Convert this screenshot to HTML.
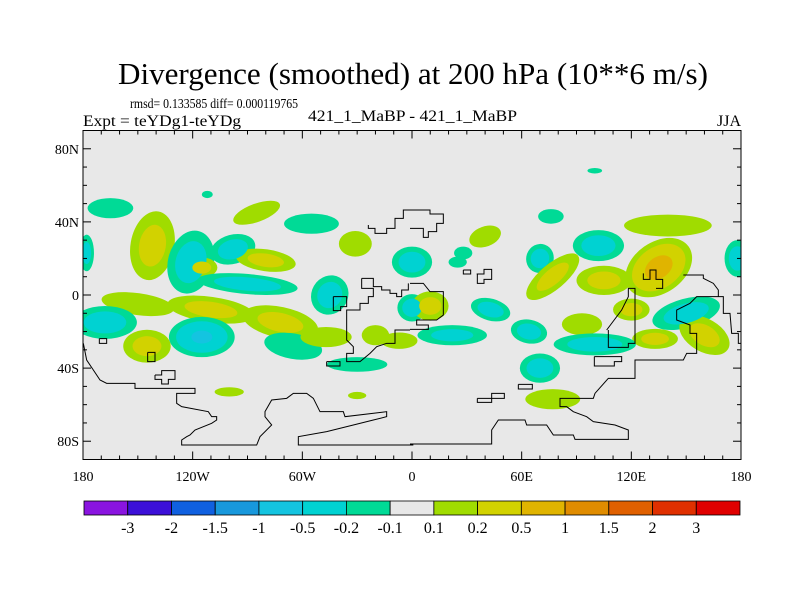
<!DOCTYPE html>
<html><head><meta charset="utf-8"><style>
html,body{margin:0;padding:0;background:#fff;}
svg{display:block;font-family:"Liberation Serif",serif;}
</style></head><body>
<svg id="chart" width="800" height="600" viewBox="0 0 800 600">
<text x="118" y="84" font-size="31" textLength="590" lengthAdjust="spacingAndGlyphs">Divergence (smoothed) at 200 hPa (10**6 m/s)</text>
<text x="130" y="108" font-size="14" textLength="168" lengthAdjust="spacingAndGlyphs">rmsd= 0.133585 diff= 0.000119765</text>
<text x="83" y="126" font-size="16" textLength="158" lengthAdjust="spacingAndGlyphs">Expt = teYDg1-teYDg</text>
<text x="308" y="121" font-size="16" textLength="209" lengthAdjust="spacingAndGlyphs">421_1_MaBP - 421_1_MaBP</text>
<text x="741" y="126" font-size="16" text-anchor="end">JJA</text>
<g id="plot"></g>
<g id="cbar"></g>
</svg>
<script>
// blob data: lon, lat, width(deg), height(deg), rotation(deg), value
const blobLon = [-165,-142,-121,-150,-110,-72,-168,-115,-145,-98,-80,-115,-90,-55,-85,-31,-45,-65,-47,-30,-20,-178, 0,0,10,43,64,22,40,76,70,77,102,140,135,105,120,150,160,178,93,133,100,70,77,-7,28,25,-100,-112,-30,100];
const blobLat = [47.5,27,18,-5,-8,-15,-15,-23,-28,25,19,15,6,39,45,28,0,-28,-23,-38,-22,23, 18,-7,-6,-8,-20,-22,32,43,20,10,27,38,15,8,-8,-10,-22,20,-16,-24,-27,-40,-57,-25,23,18,-53,55,-55,68];
const blobW = [25,24,25,40,48,42,35,36,26,25,33,17,55,30,27,18,22,32,28,33,15,8, 22,16,20,22,20,38,18,14,15,36,28,48,40,30,20,38,30,14,22,25,45,22,30,20,10,10,16,6,10,8];
const blobH = [11,38,35,12,14,17,18,22,18,16,12,11,11,11,10,14,20,14,11,8,11,20, 17,15,16,12,13,11,11,8,16,14,17,12,28,16,12,16,18,20,12,11,12,16,11,9,7,6,5,4,4,3];
const blobRot = [0,-10,-15,-8,-8,-12,0,0,0,15,-8,0,-5,0,20,0,60,-10,0,0,0,0, 0,0,0,-15,-10,0,20,0,-20,40,0,0,35,0,0,15,-30,0,0,0,0,0,0,0,0,0,0,0,0,0];
const blobVal = [-0.15,0.3,-0.35,0.15,0.3,0.3,-0.35,-0.6,0.3,-0.35,0.3,0.3,-0.35,-0.15,0.15,0.15,-0.35,-0.15,0.15,-0.15,0.15,-0.3, -0.35,-0.35,0.3,-0.35,-0.35,-0.3,0.15,-0.15,-0.35,0.3,-0.35,0.15,0.7,0.3,0.3,-0.35,0.3,-0.35,0.15,0.3,-0.35,-0.35,0.15,0.15,-0.15,-0.15,0.15,-0.15,0.15,-0.15];
const cbLabels = ["-3","-2","-1.5","-1","-0.5","-0.2","-0.1","0.1","0.2","0.5","1","1.5","2","3"];
const cbColors = ["#8a14e0","#3c10d8","#1060e0","#1898dc","#14c4e0","#00d2d2","#00da96","#e8e8e8","#a0dc00","#d2d200","#e0b400","#e08c00","#e06000","#e03000","#e00000"];
const latTicks = [80,40,0,-40,-80];
const lonTicks = [-180,-120,-60,0,60,120,180];
const lonTickLabels = ["180","120W","60W","0","60E","120E","180"];
const latTickLabels = ["80N","40N","0","40S","80S"];
const posThr = [0.1,0.2,0.5,1];
const posCol = ["#a0dc00","#d2d200","#e0b400","#e08c00"];
const negCol = ["#00da96","#00d2d2","#14c4e0","#1898dc"];

const NS="http://www.w3.org/2000/svg";
const X0=83,X1=741,Y0=130.5,Y1=459.5;
const xs = lon => X0+(lon+180)/360*(X1-X0);
const ys = lat => Y0+(90-lat)/180*(Y1-Y0);
const plot=document.getElementById('plot');
function mk(tag,attrs,parent){const e=document.createElementNS(NS,tag);for(const k in attrs)e.setAttribute(k,attrs[k]);(parent||plot).appendChild(e);return e;}

const clip=mk('clipPath',{id:'pc'});mk('rect',{x:X0,y:Y0,width:X1-X0,height:Y1-Y0},clip);
const bg=mk('rect',{x:X0,y:Y0,width:X1-X0,height:Y1-Y0,fill:'#e8e8e8'});


const fg=mk('g',{'clip-path':'url(#pc)'});
const pxPerDeg=(X1-X0)/360;
for(let lvl=0;lvl<4;lvl++){
  for(let i=0;i<blobVal.length;i++){
    const v=Math.abs(blobVal[i]); const t=posThr[lvl];
    if(v<=t) continue;
    const s=Math.sqrt(Math.log(v/t)/Math.log(v/0.1));
    const cx=xs(blobLon[i]),cy=ys(blobLat[i]);
    const e=mk('ellipse',{cx:cx,cy:cy,rx:blobW[i]/2*pxPerDeg*s,ry:blobH[i]/2*pxPerDeg*s,
      transform:`rotate(${-blobRot[i]} ${cx} ${cy})`,fill:blobVal[i]>0?posCol[lvl]:negCol[lvl]},fg);
    
    
  }
}
// coastlines (zoom coordinates: offset + z/3)
const coasts=[
 [80,140,[[10,610],[20,660],[40,690],[60,720],[80,730],[165,730],[165,745],[345,745],[345,760],[290,760],[290,790],[305,800],[385,815],[395,830],[410,830],[410,840],[395,850],[345,870],[330,885],[320,890],[305,900],[305,915],[530,915],[540,890],[575,855],[555,830],[555,815],[575,780],[620,775],[640,760],[680,760],[700,775],[720,815],[790,815],[795,830],[920,815],[920,830],[880,840],[820,855],[740,875],[655,890],[655,915],[1000,915]]],
 [410,140,[[0,912],[245,912],[245,870],[265,840],[345,840],[350,855],[410,855],[430,885],[490,885],[495,898],[655,898],[655,870],[615,855],[550,845],[530,830],[490,815],[470,800],[450,800],[450,775],[550,775],[555,760],[595,715],[675,715],[675,660],[820,660],[830,640],[860,640],[860,580],[840,580],[840,555],[800,540],[800,510],[840,490],[860,470],[940,470],[940,520],[960,520],[965,580],[985,580],[985,610],[1000,610]]],
 [410,140,[[0,430],[40,430],[60,455],[100,455],[100,525],[80,540],[20,540],[20,555],[55,555],[55,568],[0,568]]],
 [80,140,[[865,255],[865,265],[885,265],[885,280],[920,280],[920,265],[945,265],[945,235],[970,235],[970,210],[1000,210]]],
 [410,140,[[0,210],[60,210],[60,222],[100,222],[100,250],[80,250],[80,275],[55,275],[55,292],[40,292],[40,265],[0,265]]],
 [80,140,[[845,415],[880,415],[880,440],[905,440],[905,450],[930,450],[930,460],[950,460],[950,470],[965,470],[965,450],[985,450],[985,430]]],
 [80,140,[[845,415],[845,445],[880,445],[880,470],[865,470],[865,490],[840,490],[840,510],[800,510],[800,600],[820,620],[820,640],[800,640],[800,665],[840,665],[870,640],[890,620],[920,610],[945,610],[945,570],[990,570]]],
 [410,140,[[590,570],[635,510],[655,470],[655,445],[675,445],[675,610],[655,610],[655,622],[595,622],[595,570]]],
 [410,140,[[820,405],[880,405],[880,415],[910,430],[925,450],[925,470]]],
 [410,140,[[700,400],[700,418],[720,418],[720,390],[738,390],[738,418],[758,418],[758,445],[738,445]]],
 [80,140,[[760,470],[800,470],[800,500],[782,500],[782,512],[760,512],[760,470]]],
 [80,140,[[740,665],[780,665],[780,678],[740,678],[740,665]]],
 [80,140,[[58,596],[80,596],[80,610],[58,610],[58,596]]],
 [80,140,[[203,637],[225,637],[225,665],[203,665],[203,637]]],
 [80,140,[[225,705],[245,705],[245,692],[285,692],[285,718],[265,718],[265,732],[245,732],[245,718],[225,718],[225,705]]],
 [410,140,[[160,390],[182,390],[182,402],[160,402],[160,390]]],
 [410,140,[[200,402],[222,402],[222,388],[245,388],[245,418],[222,418],[222,430],[202,430],[202,402]]],
 [410,140,[[325,733],[367,733],[367,747],[325,747],[325,733]]],
 [410,140,[[202,775],[245,775],[245,760],[283,760],[283,775],[245,775],[245,787],[202,787],[202,775]]],
 [410,140,[[553,650],[635,650],[635,665],[613,665],[613,678],[553,678],[553,650]]]
];
coasts.forEach(c=>{
  const p=mk('polyline',{points:c[2].map(q=>(c[0]+q[0]/3)+','+(c[1]+q[1]/3)).join(' '),fill:'none',stroke:'#000','stroke-width':1},fg);
  
  
});
// ticks
for(let lat=-80;lat<=80;lat+=10){const y=ys(lat);const L=(lat%40===0)?8:4;
  mk('line',{x1:X0,y1:y,x2:X0+L,y2:y,stroke:'#000'});mk('line',{x1:X1,y1:y,x2:X1-L,y2:y,stroke:'#000'});}
for(let lon=-170;lon<=170;lon+=10){const x=xs(lon);const L=(lon%60===0)?8:4;
  mk('line',{x1:x,y1:Y0,x2:x,y2:Y0+L,stroke:'#000'});mk('line',{x1:x,y1:Y1,x2:x,y2:Y1-L,stroke:'#000'});}
const fr=mk('rect',{x:X0,y:Y0,width:X1-X0,height:Y1-Y0,fill:'none',stroke:'#000','stroke-width':1});


latTicks.forEach((lat,i)=>{const t=mk('text',{x:X0-4,y:ys(lat)+5,'font-size':14,'text-anchor':'end'});t.textContent=latTickLabels[i];
  
  });
lonTicks.forEach((lon,i)=>{const t=mk('text',{x:xs(lon),y:481,'font-size':14,'text-anchor':'middle'});t.textContent=lonTickLabels[i];
  
  });
// colorbar
const cb=document.getElementById('cbar');const CX0=84,CX1=740,bw=(CX1-CX0)/cbColors.length;
cbColors.forEach((c,i)=>{const r=mk('rect',{x:CX0+i*bw,y:501,width:bw,height:14,fill:c,stroke:'#000','stroke-width':0.8},cb);
  
  });
cbLabels.forEach((l,i)=>{const t=mk('text',{x:CX0+(i+1)*bw,y:533,'font-size':16,'text-anchor':'middle'},cb);t.textContent=l;
  
  });
</script>
</body></html>
